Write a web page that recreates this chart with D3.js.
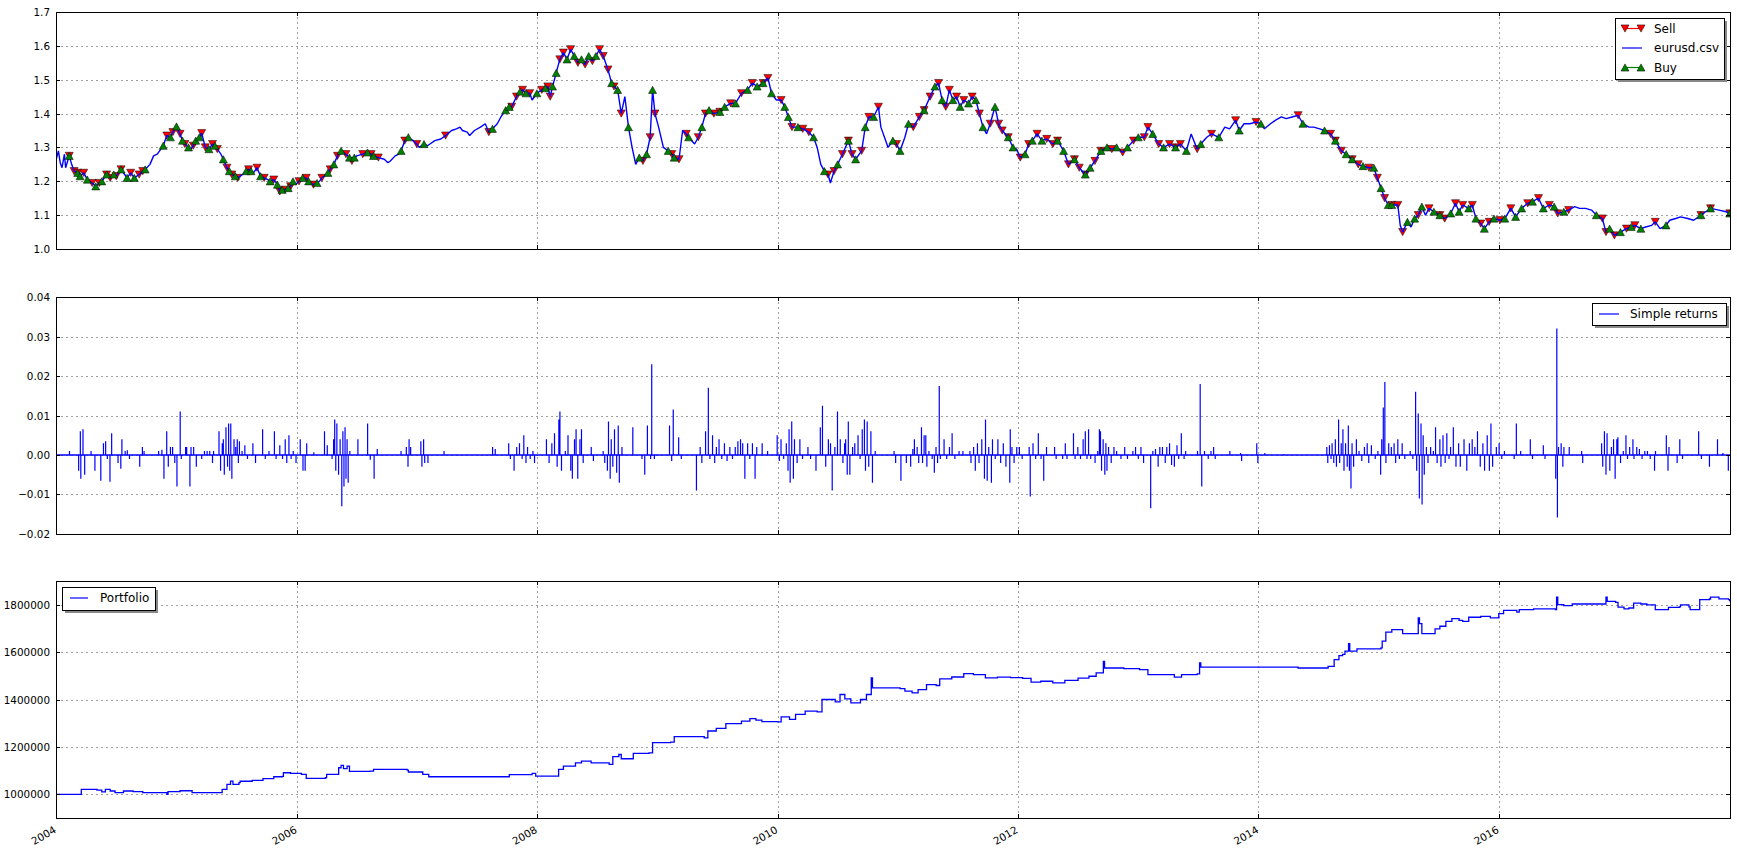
<!DOCTYPE html>
<html><head><meta charset="utf-8">
<script src="https://cdn.jsdelivr.net/npm/d3@7"></script>
<style>
body{margin:0;background:#fff;}
svg{display:block;font-family:"DejaVu Sans",sans-serif;}
</style></head>
<body><svg id="c" width="1737" height="851"></svg>
<script>
// ---------------- DATA ----------------
const xTickYears = [2004,2006,2008,2010,2012,2014,2016];
const xDomainYears = [2004.0, 2017.922];
const priceTicks = [1.0,1.1,1.2,1.3,1.4,1.5,1.6,1.7];
const returnTicks = [-0.02,-0.01,0.0,0.01,0.02,0.03,0.04];
const portfolioTicks = [1000000,1200000,1400000,1600000,1800000];
const priceDomain = [1.0,1.7];
const returnDomain = [-0.02,0.04];
const portfolioDomain = [900000,1900000];

// EUR/USD close [year, price]
const eurusd = [
[2004.00,1.262],[2004.02,1.29],[2004.035,1.255],[2004.05,1.24],[2004.07,1.28],[2004.08,1.24],[2004.11,1.275],[2004.13,1.25],[2004.15,1.23],[2004.18,1.225],[2004.20,1.215],[2004.23,1.225],[2004.26,1.205],[2004.30,1.195],[2004.33,1.185],[2004.36,1.195],[2004.38,1.20],[2004.42,1.22],[2004.45,1.21],[2004.48,1.22],[2004.50,1.215],[2004.54,1.235],[2004.57,1.22],[2004.59,1.21],[2004.62,1.225],[2004.65,1.21],[2004.69,1.22],[2004.72,1.23],[2004.74,1.235],[2004.78,1.25],[2004.81,1.275],[2004.84,1.28],[2004.86,1.29],[2004.89,1.305],[2004.92,1.335],[2004.95,1.33],[2004.97,1.345],[2005.00,1.362],[2005.03,1.34],[2005.05,1.32],[2005.07,1.31],[2005.10,1.30],[2005.12,1.295],[2005.14,1.305],[2005.16,1.32],[2005.19,1.33],[2005.21,1.342],[2005.24,1.30],[2005.27,1.295],[2005.30,1.31],[2005.32,1.305],[2005.34,1.295],[2005.37,1.28],[2005.39,1.265],[2005.42,1.24],[2005.44,1.23],[2005.46,1.22],[2005.49,1.215],[2005.51,1.21],[2005.55,1.22],[2005.58,1.23],[2005.60,1.235],[2005.62,1.23],[2005.64,1.225],[2005.67,1.24],[2005.70,1.215],[2005.73,1.21],[2005.76,1.205],[2005.78,1.20],[2005.81,1.205],[2005.84,1.19],[2005.86,1.17],[2005.88,1.175],[2005.90,1.175],[2005.93,1.18],[2005.95,1.185],[2005.97,1.20],[2005.99,1.19],[2006.02,1.20],[2006.05,1.21],[2006.08,1.21],[2006.10,1.20],[2006.12,1.195],[2006.14,1.19],[2006.17,1.195],[2006.19,1.20],[2006.21,1.21],[2006.23,1.215],[2006.26,1.225],[2006.28,1.235],[2006.31,1.25],[2006.34,1.275],[2006.37,1.29],[2006.39,1.285],[2006.41,1.28],[2006.44,1.27],[2006.46,1.26],[2006.48,1.27],[2006.50,1.275],[2006.55,1.28],[2006.59,1.285],[2006.62,1.28],[2006.64,1.275],[2006.68,1.27],[2006.73,1.265],[2006.76,1.255],[2006.78,1.26],[2006.82,1.275],[2006.85,1.28],[2006.87,1.29],[2006.90,1.32],[2006.93,1.33],[2006.95,1.325],[2006.97,1.32],[2007.00,1.31],[2007.02,1.30],[2007.06,1.31],[2007.09,1.305],[2007.11,1.31],[2007.15,1.32],[2007.20,1.325],[2007.24,1.335],[2007.29,1.35],[2007.33,1.355],[2007.36,1.36],[2007.38,1.35],[2007.42,1.345],[2007.44,1.335],[2007.48,1.35],[2007.53,1.36],[2007.57,1.37],[2007.60,1.345],[2007.63,1.355],[2007.67,1.37],[2007.70,1.39],[2007.74,1.41],[2007.77,1.42],[2007.79,1.42],[2007.83,1.45],[2007.86,1.465],[2007.88,1.47],[2007.91,1.46],[2007.94,1.46],[2007.96,1.44],[2008.00,1.46],[2008.04,1.47],[2008.07,1.475],[2008.09,1.48],[2008.11,1.45],[2008.13,1.48],[2008.16,1.52],[2008.19,1.56],[2008.22,1.58],[2008.25,1.56],[2008.28,1.59],[2008.31,1.57],[2008.34,1.55],[2008.37,1.56],[2008.40,1.545],[2008.43,1.57],[2008.46,1.555],[2008.49,1.57],[2008.52,1.59],[2008.55,1.57],[2008.59,1.53],[2008.62,1.49],[2008.64,1.48],[2008.67,1.47],[2008.70,1.40],[2008.73,1.45],[2008.76,1.36],[2008.79,1.30],[2008.82,1.25],[2008.85,1.27],[2008.88,1.26],[2008.91,1.28],[2008.94,1.33],[2008.96,1.47],[2008.98,1.40],[2009.01,1.36],[2009.05,1.30],[2009.09,1.29],[2009.12,1.28],[2009.14,1.27],[2009.18,1.265],[2009.21,1.35],[2009.24,1.34],[2009.26,1.33],[2009.31,1.31],[2009.34,1.33],[2009.37,1.36],[2009.40,1.40],[2009.43,1.41],[2009.47,1.40],[2009.52,1.405],[2009.56,1.42],[2009.61,1.43],[2009.65,1.43],[2009.70,1.46],[2009.75,1.47],[2009.79,1.49],[2009.83,1.48],[2009.88,1.49],[2009.92,1.505],[2009.95,1.46],[2009.99,1.44],[2010.03,1.44],[2010.06,1.42],[2010.09,1.39],[2010.12,1.36],[2010.17,1.36],[2010.21,1.355],[2010.26,1.345],[2010.30,1.33],[2010.33,1.30],[2010.36,1.25],[2010.39,1.23],[2010.42,1.22],[2010.44,1.195],[2010.47,1.23],[2010.50,1.25],[2010.54,1.28],[2010.59,1.32],[2010.62,1.28],[2010.65,1.265],[2010.70,1.29],[2010.73,1.36],[2010.76,1.39],[2010.80,1.39],[2010.84,1.42],[2010.86,1.36],[2010.89,1.33],[2010.92,1.30],[2010.96,1.32],[2010.99,1.31],[2011.02,1.29],[2011.06,1.33],[2011.09,1.37],[2011.13,1.36],[2011.18,1.39],[2011.22,1.41],[2011.27,1.45],[2011.31,1.48],[2011.34,1.49],[2011.37,1.44],[2011.40,1.42],[2011.43,1.47],[2011.46,1.44],[2011.49,1.45],[2011.52,1.42],[2011.55,1.44],[2011.59,1.43],[2011.62,1.45],[2011.65,1.44],[2011.68,1.40],[2011.71,1.36],[2011.74,1.34],[2011.77,1.37],[2011.81,1.42],[2011.84,1.37],[2011.87,1.35],[2011.92,1.33],[2011.96,1.30],[2011.99,1.295],[2012.02,1.27],[2012.06,1.28],[2012.09,1.31],[2012.12,1.32],[2012.16,1.34],[2012.20,1.32],[2012.24,1.325],[2012.29,1.31],[2012.33,1.32],[2012.38,1.29],[2012.42,1.25],[2012.47,1.265],[2012.51,1.24],[2012.56,1.22],[2012.60,1.24],[2012.64,1.26],[2012.69,1.29],[2012.74,1.30],[2012.78,1.295],[2012.82,1.30],[2012.87,1.285],[2012.91,1.30],[2012.96,1.32],[2013.00,1.33],[2013.05,1.33],[2013.08,1.36],[2013.12,1.34],[2013.17,1.31],[2013.21,1.30],[2013.26,1.31],[2013.31,1.30],[2013.35,1.31],[2013.40,1.29],[2013.44,1.34],[2013.49,1.295],[2013.52,1.31],[2013.57,1.33],[2013.61,1.34],[2013.67,1.33],[2013.72,1.36],[2013.76,1.355],[2013.81,1.38],[2013.84,1.35],[2013.88,1.37],[2013.93,1.37],[2013.98,1.375],[2014.02,1.37],[2014.05,1.355],[2014.10,1.37],[2014.14,1.38],[2014.19,1.39],[2014.23,1.385],[2014.28,1.39],[2014.33,1.395],[2014.37,1.37],[2014.42,1.36],[2014.46,1.36],[2014.51,1.355],[2014.55,1.35],[2014.60,1.34],[2014.64,1.32],[2014.69,1.29],[2014.73,1.28],[2014.78,1.265],[2014.83,1.25],[2014.87,1.245],[2014.92,1.24],[2014.96,1.24],[2014.99,1.21],[2015.02,1.18],[2015.05,1.15],[2015.08,1.13],[2015.11,1.13],[2015.16,1.13],[2015.18,1.07],[2015.20,1.05],[2015.24,1.08],[2015.27,1.065],[2015.30,1.09],[2015.33,1.10],[2015.36,1.125],[2015.39,1.10],[2015.42,1.12],[2015.46,1.11],[2015.51,1.10],[2015.55,1.09],[2015.60,1.105],[2015.64,1.135],[2015.67,1.11],[2015.70,1.13],[2015.75,1.12],[2015.78,1.13],[2015.81,1.09],[2015.85,1.075],[2015.88,1.06],[2015.92,1.08],[2015.96,1.09],[2016.01,1.085],[2016.05,1.09],[2016.10,1.12],[2016.14,1.095],[2016.19,1.12],[2016.24,1.135],[2016.28,1.14],[2016.33,1.15],[2016.37,1.12],[2016.42,1.13],[2016.46,1.125],[2016.49,1.105],[2016.54,1.11],[2016.58,1.115],[2016.63,1.125],[2016.67,1.12],[2016.72,1.12],[2016.77,1.115],[2016.81,1.10],[2016.86,1.09],[2016.89,1.05],[2016.92,1.06],[2016.96,1.04],[2017.01,1.05],[2017.06,1.06],[2017.10,1.065],[2017.13,1.07],[2017.18,1.06],[2017.22,1.065],[2017.27,1.07],[2017.30,1.08],[2017.34,1.06],[2017.39,1.07],[2017.42,1.085],[2017.47,1.09],[2017.51,1.095],[2017.57,1.09],[2017.62,1.085],[2017.68,1.10],[2017.72,1.11],[2017.76,1.12],[2017.83,1.115],[2017.89,1.11],[2017.92,1.105]
];

// trade signal dates (years)
const sellYears = [2004.11,2004.15,2004.18,2004.23,2004.30,2004.36,2004.42,2004.45,2004.50,2004.54,2004.62,2004.69,2004.72,2004.92,2004.97,2005.03,2005.07,2005.14,2005.21,2005.24,2005.30,2005.34,2005.42,2005.46,2005.51,2005.60,2005.67,2005.73,2005.81,2005.86,2005.90,2005.95,2006.02,2006.08,2006.14,2006.21,2006.28,2006.34,2006.41,2006.46,2006.55,2006.62,2006.68,2006.90,2007.00,2007.24,2007.60,2007.79,2007.83,2007.88,2007.94,2008.04,2008.09,2008.11,2008.19,2008.22,2008.28,2008.34,2008.40,2008.46,2008.52,2008.55,2008.59,2008.64,2008.70,2008.88,2008.94,2008.98,2009.12,2009.18,2009.24,2009.34,2009.40,2009.47,2009.52,2009.61,2009.70,2009.79,2009.88,2009.92,2010.03,2010.12,2010.21,2010.26,2010.42,2010.47,2010.54,2010.59,2010.62,2010.70,2010.76,2010.84,2010.99,2011.13,2011.18,2011.22,2011.27,2011.34,2011.40,2011.43,2011.49,2011.55,2011.62,2011.68,2011.77,2011.84,2011.87,2011.92,2012.02,2012.09,2012.16,2012.24,2012.29,2012.33,2012.42,2012.47,2012.51,2012.56,2012.64,2012.69,2012.78,2012.87,2012.96,2013.05,2013.08,2013.17,2013.26,2013.31,2013.35,2013.49,2013.61,2013.81,2013.98,2014.33,2014.60,2014.64,2014.69,2014.78,2014.83,2014.92,2014.99,2015.05,2015.11,2015.16,2015.20,2015.33,2015.42,2015.51,2015.55,2015.64,2015.70,2015.78,2015.85,2015.92,2016.01,2016.10,2016.24,2016.33,2016.42,2016.49,2016.58,2016.86,2016.89,2016.96,2017.06,2017.13,2017.30,2017.68,2017.76,2017.92];
const buyYears = [2004.11,2004.18,2004.20,2004.26,2004.33,2004.38,2004.42,2004.48,2004.54,2004.59,2004.65,2004.74,2004.89,2004.95,2005.00,2005.05,2005.10,2005.16,2005.19,2005.27,2005.32,2005.39,2005.44,2005.49,2005.58,2005.62,2005.70,2005.78,2005.84,2005.88,2005.93,2005.97,2006.05,2006.10,2006.17,2006.26,2006.31,2006.37,2006.44,2006.48,2006.59,2006.64,2006.87,2006.93,2007.06,2007.63,2007.74,2007.77,2007.86,2007.91,2008.00,2008.07,2008.13,2008.16,2008.25,2008.31,2008.37,2008.43,2008.49,2008.62,2008.67,2008.76,2008.85,2008.91,2008.96,2009.09,2009.14,2009.26,2009.37,2009.43,2009.52,2009.56,2009.65,2009.75,2009.83,2009.88,2009.95,2010.06,2010.09,2010.17,2010.30,2010.39,2010.50,2010.59,2010.65,2010.73,2010.80,2010.96,2011.02,2011.09,2011.22,2011.31,2011.37,2011.46,2011.52,2011.59,2011.65,2011.71,2011.81,2011.92,2011.96,2012.06,2012.12,2012.20,2012.33,2012.38,2012.47,2012.56,2012.60,2012.69,2012.74,2012.82,2012.91,2013.00,2013.12,2013.21,2013.31,2013.40,2013.52,2013.67,2013.84,2014.02,2014.37,2014.55,2014.64,2014.73,2014.78,2014.87,2014.96,2015.02,2015.08,2015.11,2015.24,2015.30,2015.36,2015.46,2015.51,2015.60,2015.67,2015.75,2015.81,2015.88,2015.96,2016.05,2016.14,2016.19,2016.28,2016.37,2016.46,2016.54,2016.81,2016.92,2017.01,2017.10,2017.18,2017.39,2017.68,2017.76,2017.92];

// simple returns: non-zero days [year, return]
const returns = [
[2004.112,0.001],[2004.188,-0.004],[2004.202,0.006],[2004.206,-0.006],[2004.224,0.0065],[2004.238,-0.005],[2004.291,0.001],[2004.323,-0.004],[2004.372,-0.0065],[2004.394,0.003],[2004.412,0.0035],[2004.426,-0.001],[2004.448,-0.0068],[2004.462,0.0055],[2004.515,-0.002],[2004.538,-0.0035],[2004.547,0.004],[2004.574,0.001],[2004.592,0.0012],[2004.610,-0.001],[2004.695,-0.003],[2004.717,0.002],[2004.731,0.001],[2004.852,0.001],[2004.879,0.0013],[2004.896,-0.006],[2004.919,0.006],[2004.932,-0.003],[2004.950,0.002],[2004.968,0.002],[2004.986,-0.002],
[2005.004,-0.008],[2005.031,0.011],[2005.040,-0.001],[2005.076,0.002],[2005.085,0.002],[2005.112,-0.008],[2005.121,0.002],[2005.143,0.002],[2005.165,-0.003],[2005.210,-0.001],[2005.233,0.001],[2005.255,0.001],[2005.277,0.001],[2005.300,-0.002],[2005.309,0.001],[2005.354,0.006],[2005.367,-0.004],[2005.381,0.003],[2005.390,0.004],[2005.398,-0.005],[2005.412,0.007],[2005.425,-0.003],[2005.434,0.008],[2005.443,-0.004],[2005.452,0.008],[2005.461,-0.006],[2005.479,0.004],[2005.493,0.002],[2005.506,0.004],[2005.515,-0.002],[2005.524,0.0035],[2005.546,0.001],[2005.569,0.0025],[2005.591,-0.001],[2005.636,0.003],[2005.658,-0.002],[2005.717,0.0065],[2005.739,-0.001],[2005.770,0.001],[2005.815,0.006],[2005.829,-0.001],[2005.860,0.0025],[2005.883,-0.001],[2005.905,0.004],[2005.918,-0.002],[2005.936,0.005],[2005.954,-0.001],[2005.972,0.001],[2005.995,-0.002],
[2006.030,0.004],[2006.053,-0.004],[2006.071,-0.004],[2006.084,0.003],[2006.143,0.0007],[2006.232,0.006],[2006.255,0.0025],[2006.295,-0.001],[2006.308,0.004],[2006.317,0.009],[2006.326,-0.004],[2006.335,0.008],[2006.349,-0.005],[2006.362,0.004],[2006.376,-0.013],[2006.385,0.006],[2006.394,-0.008],[2006.403,0.007],[2006.411,-0.006],[2006.420,0.004],[2006.429,-0.007],[2006.443,0.001],[2006.510,0.004],[2006.591,0.008],[2006.613,-0.0012],[2006.645,-0.006],[2006.671,0.0015],[2006.869,0.001],[2006.913,0.002],[2006.927,-0.003],[2006.936,0.004],[2006.949,0.002],
[2007.034,0.0035],[2007.043,-0.003],[2007.057,0.004],[2007.066,-0.002],[2007.093,-0.002],[2007.227,0.001],[2007.631,0.002],[2007.653,0.0015],[2007.765,0.003],[2007.779,-0.001],[2007.810,-0.004],[2007.832,0.002],[2007.855,0.003],[2007.877,-0.001],[2007.891,0.005],[2007.909,-0.002],[2007.922,0.002],[2007.944,-0.001],[2007.967,0.001],[2007.980,-0.002],
[2008.079,0.004],[2008.101,-0.002],[2008.124,0.003],[2008.146,0.0055],[2008.168,-0.003],[2008.182,0.009],[2008.191,0.011],[2008.204,-0.004],[2008.236,0.001],[2008.258,0.005],[2008.281,-0.004],[2008.294,-0.006],[2008.312,0.004],[2008.325,0.0065],[2008.339,-0.006],[2008.357,0.004],[2008.370,0.0065],[2008.384,-0.002],[2008.451,0.002],[2008.469,-0.0015],[2008.550,0.001],[2008.563,-0.002],[2008.585,-0.004],[2008.594,0.0085],[2008.608,-0.006],[2008.617,0.004],[2008.630,-0.003],[2008.644,0.0065],[2008.662,-0.0045],[2008.675,0.0075],[2008.684,-0.007],[2008.706,0.002],[2008.796,0.007],[2008.872,-0.001],[2008.895,-0.005],[2008.917,0.0075],[2008.944,-0.001],[2008.953,0.023],[2008.975,-0.001],
[2009.101,0.0075],[2009.119,-0.0015],[2009.132,0.0115],[2009.177,0.0045],[2009.199,-0.001],[2009.325,-0.009],[2009.356,0.002],[2009.370,-0.002],[2009.401,0.006],[2009.424,0.017],[2009.437,-0.001],[2009.459,0.005],[2009.477,-0.002],[2009.491,0.002],[2009.513,0.004],[2009.536,-0.001],[2009.558,0.003],[2009.580,-0.0015],[2009.603,0.002],[2009.625,-0.001],[2009.648,0.002],[2009.670,0.0035],[2009.692,0.004],[2009.710,0.003],[2009.728,-0.006],[2009.751,0.003],[2009.769,-0.001],[2009.791,0.003],[2009.813,-0.006],[2009.827,0.002],[2009.872,0.003],[2009.917,0.001],[2009.997,0.005],
[2010.015,-0.0015],[2010.029,0.004],[2010.051,-0.001],[2010.073,0.003],[2010.087,-0.004],[2010.096,0.0065],[2010.105,-0.007],[2010.118,0.0085],[2010.132,-0.006],[2010.141,0.004],[2010.163,-0.002],[2010.186,0.004],[2010.208,-0.001],[2010.253,0.002],[2010.275,-0.001],[2010.320,-0.004],[2010.356,0.007],[2010.374,0.0125],[2010.401,-0.003],[2010.423,0.004],[2010.441,0.003],[2010.455,-0.009],[2010.477,0.002],[2010.499,0.011],[2010.522,0.004],[2010.544,-0.002],[2010.558,0.003],[2010.567,0.004],[2010.580,-0.005],[2010.589,0.0085],[2010.602,-0.005],[2010.625,0.002],[2010.643,0.003],[2010.670,0.005],[2010.687,-0.001],[2010.705,0.0065],[2010.723,0.009],[2010.732,-0.004],[2010.746,0.0085],[2010.759,-0.003],[2010.777,0.006],[2010.790,-0.007],[2010.813,0.001],[2010.970,0.001],[2010.983,-0.002],
[2011.027,-0.0065],[2011.072,-0.002],[2011.108,-0.003],[2011.126,0.0015],[2011.139,0.004],[2011.162,0.002],[2011.175,-0.002],[2011.198,0.007],[2011.207,-0.002],[2011.220,0.005],[2011.234,0.005],[2011.243,-0.003],[2011.260,0.001],[2011.287,-0.001],[2011.305,-0.0045],[2011.319,0.002],[2011.332,-0.002],[2011.346,0.0175],[2011.355,-0.001],[2011.386,0.004],[2011.408,-0.001],[2011.431,0.002],[2011.453,0.0055],[2011.476,-0.001],[2011.511,0.001],[2011.543,0.001],[2011.601,0.001],[2011.610,-0.002],[2011.632,0.002],[2011.646,-0.004],[2011.664,0.003],[2011.677,-0.002],[2011.700,0.004],[2011.722,-0.006],[2011.731,0.009],[2011.745,-0.0065],[2011.758,0.002],[2011.780,-0.007],[2011.789,0.004],[2011.812,-0.001],[2011.834,0.004],[2011.857,-0.002],[2011.879,0.003],[2011.901,-0.003],[2011.933,-0.007],[2011.937,0.0065],[2011.951,0.002],[2011.969,-0.002],[2011.991,0.002],
[2012.013,0.002],[2012.036,-0.001],[2012.094,0.002],[2012.103,-0.0105],[2012.126,0.003],[2012.148,-0.001],[2012.170,0.0055],[2012.193,-0.001],[2012.215,-0.0065],[2012.238,0.002],[2012.305,0.002],[2012.318,-0.001],[2012.372,-0.001],[2012.394,0.003],[2012.408,-0.001],[2012.462,0.0055],[2012.475,-0.001],[2012.498,0.002],[2012.520,-0.001],[2012.542,0.004],[2012.560,0.006],[2012.574,-0.001],[2012.587,0.0065],[2012.605,-0.001],[2012.641,-0.002],[2012.663,0.001],[2012.677,0.0065],[2012.686,0.006],[2012.695,-0.004],[2012.708,0.004],[2012.722,-0.005],[2012.731,0.003],[2012.740,-0.004],[2012.753,0.002],[2012.775,-0.002],[2012.798,0.002],[2012.820,0.001],[2012.856,-0.001],[2012.887,0.002],[2012.910,-0.001],[2012.955,0.001],[2012.977,0.002],
[2013.000,-0.001],[2013.022,0.002],[2013.044,-0.002],[2013.103,-0.0135],[2013.121,0.001],[2013.143,0.0015],[2013.165,-0.003],[2013.179,0.002],[2013.201,0.002],[2013.224,-0.002],[2013.237,0.002],[2013.260,0.003],[2013.277,-0.0025],[2013.300,-0.003],[2013.322,0.0025],[2013.336,-0.001],[2013.358,0.0055],[2013.381,-0.001],[2013.394,0.001],[2013.493,0.001],[2013.515,0.018],[2013.528,-0.008],[2013.551,0.001],[2013.582,-0.001],[2013.605,0.001],[2013.627,0.002],[2013.640,-0.001],[2013.762,0.001],[2013.851,0.0005],[2013.860,-0.0015],[2013.986,0.003],[2013.995,-0.002],
[2014.053,0.0005],[2014.210,0.0002],[2014.569,0.002],[2014.577,-0.002],[2014.591,0.0025],[2014.604,-0.001],[2014.613,0.003],[2014.627,-0.002],[2014.640,0.004],[2014.649,-0.003],[2014.667,0.009],[2014.676,-0.002],[2014.689,0.003],[2014.703,0.0065],[2014.712,-0.004],[2014.725,0.003],[2014.739,-0.003],[2014.748,0.0075],[2014.757,-0.004],[2014.770,-0.0085],[2014.779,0.003],[2014.792,-0.003],[2014.815,0.004],[2014.837,0.001],[2014.860,-0.0015],[2014.882,0.002],[2014.905,0.003],[2014.918,-0.002],[2014.940,0.0025],[2014.972,-0.001],[2014.994,0.001],
[2015.017,-0.005],[2015.026,0.004],[2015.039,0.012],[2015.052,0.0185],[2015.061,-0.002],[2015.084,0.003],[2015.106,0.002],[2015.129,0.003],[2015.142,-0.002],[2015.160,0.004],[2015.173,-0.001],[2015.196,0.003],[2015.218,-0.001],[2015.263,0.001],[2015.285,-0.001],[2015.308,0.016],[2015.317,-0.004],[2015.330,0.0105],[2015.339,-0.011],[2015.353,0.008],[2015.362,-0.0125],[2015.371,0.005],[2015.380,-0.005],[2015.398,0.002],[2015.411,-0.002],[2015.433,0.002],[2015.456,0.001],[2015.474,0.007],[2015.487,-0.002],[2015.510,0.004],[2015.519,-0.003],[2015.536,0.005],[2015.554,-0.002],[2015.568,0.0055],[2015.586,-0.001],[2015.599,0.002],[2015.622,0.007],[2015.644,-0.003],[2015.666,0.003],[2015.680,-0.003],[2015.711,0.004],[2015.734,-0.004],[2015.756,0.003],[2015.779,0.004],[2015.801,0.002],[2015.823,0.006],[2015.846,-0.003],[2015.868,0.003],[2015.882,-0.004],[2015.904,0.005],[2015.922,-0.004],[2015.935,0.008],[2015.949,-0.003],[2015.980,0.002],
[2016.003,0.003],[2016.025,-0.001],[2016.047,0.001],[2016.128,-0.001],[2016.146,0.008],[2016.182,0.001],[2016.262,0.004],[2016.280,-0.001],[2016.370,0.0025],[2016.384,-0.001],[2016.473,-0.006],[2016.482,0.032],[2016.487,-0.0158],[2016.496,0.002],[2016.518,0.003],[2016.532,-0.003],[2016.541,0.002],[2016.585,0.002],[2016.688,0.001],[2016.697,-0.002],[2016.854,0.003],[2016.863,-0.003],[2016.877,0.006],[2016.890,-0.005],[2016.899,0.0055],[2016.922,-0.004],[2016.935,0.002],[2016.953,0.004],[2016.966,-0.006],[2016.980,0.004],[2016.989,0.0045],
[2017.011,-0.002],[2017.034,0.001],[2017.056,0.005],[2017.069,-0.001],[2017.087,0.002],[2017.114,0.004],[2017.123,-0.001],[2017.146,0.002],[2017.168,0.0015],[2017.190,-0.001],[2017.213,0.001],[2017.235,0.001],[2017.258,-0.001],[2017.294,-0.004],[2017.302,0.001],[2017.392,0.005],[2017.406,-0.004],[2017.414,0.002],[2017.482,-0.002],[2017.504,0.004],[2017.527,-0.001],[2017.661,0.006],[2017.684,-0.001],[2017.751,-0.003],[2017.818,0.004],[2017.863,0.0005],[2017.908,-0.004]
];

// portfolio value [year, value]
const portfolio = [
[2004.00,1000000],[2004.20,1000000],[2004.21,1021000],[2004.34,1018000],[2004.38,1010000],[2004.41,1021000],[2004.45,1014000],[2004.49,1007000],[2004.56,1014000],[2004.64,1011000],[2004.72,1007000],[2004.89,1007000],[2004.92,1000000],[2004.93,1011000],[2005.00,1011000],[2005.03,1015000],[2005.11,1015000],[2005.13,1007000],[2005.35,1007000],[2005.38,1021000],[2005.42,1042000],[2005.45,1056000],[2005.47,1042000],[2005.52,1049000],[2005.53,1055000],[2005.63,1059000],[2005.72,1066000],[2005.81,1074000],[2005.88,1076000],[2005.89,1091000],[2005.95,1088000],[2006.04,1084000],[2006.08,1067000],[2006.24,1070000],[2006.25,1084000],[2006.31,1084000],[2006.35,1112000],[2006.37,1122000],[2006.39,1108000],[2006.42,1119000],[2006.44,1097000],[2006.61,1098000],[2006.64,1105000],[2006.92,1102000],[2006.93,1094000],[2007.05,1084000],[2007.10,1074000],[2007.76,1074000],[2007.77,1083000],[2007.96,1088000],[2007.99,1077000],[2008.16,1077000],[2008.18,1105000],[2008.22,1119000],[2008.32,1133000],[2008.37,1140000],[2008.45,1133000],[2008.60,1126000],[2008.63,1159000],[2008.68,1168000],[2008.70,1150000],[2008.78,1150000],[2008.80,1173000],[2008.93,1175000],[2008.96,1218000],[2009.11,1220000],[2009.14,1243000],[2009.39,1238000],[2009.42,1267000],[2009.49,1278000],[2009.57,1298000],[2009.70,1309000],[2009.77,1319000],[2009.82,1313000],[2009.87,1307000],[2010.00,1306000],[2010.03,1327000],[2010.10,1316000],[2010.15,1337000],[2010.23,1351000],[2010.33,1348000],[2010.37,1400000],[2010.48,1390000],[2010.52,1421000],[2010.56,1403000],[2010.61,1386000],[2010.69,1400000],[2010.74,1421000],[2010.78,1491000],[2010.79,1449000],[2011.02,1446000],[2011.06,1435000],[2011.12,1428000],[2011.17,1442000],[2011.24,1463000],[2011.32,1459000],[2011.35,1487000],[2011.45,1495000],[2011.55,1509000],[2011.63,1505000],[2011.73,1491000],[2011.83,1494000],[2011.94,1492000],[2012.04,1489000],[2012.11,1473000],[2012.19,1477000],[2012.29,1470000],[2012.39,1481000],[2012.50,1490000],[2012.59,1498000],[2012.65,1512000],[2012.71,1561000],[2012.72,1533000],[2012.88,1530000],[2013.01,1526000],[2013.08,1505000],[2013.21,1505000],[2013.30,1494000],[2013.36,1505000],[2013.49,1508000],[2013.51,1554000],[2013.52,1537000],[2013.82,1537000],[2014.33,1533000],[2014.56,1533000],[2014.58,1540000],[2014.63,1568000],[2014.67,1585000],[2014.70,1590000],[2014.72,1604000],[2014.75,1636000],[2014.76,1604000],[2014.82,1614000],[2014.93,1614000],[2015.02,1618000],[2015.03,1646000],[2015.06,1684000],[2015.11,1695000],[2015.14,1695000],[2015.20,1678000],[2015.32,1678000],[2015.33,1744000],[2015.34,1720000],[2015.36,1678000],[2015.46,1678000],[2015.47,1698000],[2015.51,1709000],[2015.56,1730000],[2015.61,1741000],[2015.67,1734000],[2015.70,1730000],[2015.75,1747000],[2015.85,1751000],[2015.93,1744000],[2016.00,1762000],[2016.04,1776000],[2016.15,1769000],[2016.17,1779000],[2016.29,1782000],[2016.47,1779000],[2016.48,1832000],[2016.49,1800000],[2016.54,1796000],[2016.61,1803000],[2016.86,1803000],[2016.89,1832000],[2016.90,1814000],[2016.97,1810000],[2016.99,1790000],[2017.04,1782000],[2017.08,1786000],[2017.12,1807000],[2017.18,1803000],[2017.23,1799000],[2017.29,1799000],[2017.30,1779000],[2017.40,1779000],[2017.41,1789000],[2017.50,1791000],[2017.51,1799000],[2017.58,1791000],[2017.59,1779000],[2017.66,1779000],[2017.67,1821000],[2017.75,1824000],[2017.76,1832000],[2017.83,1825000],[2017.91,1821000],[2017.92,1813000]
];

// ---------------- DRAW ----------------
function yd(y){const yr=Math.floor(y);const s=Date.UTC(yr,0,1),e=Date.UTC(yr+1,0,1);return new Date(s+(y-yr)*(e-s));}
const svg=d3.select("#c");
const L=56, R=1730;
const x=d3.scaleUtc().domain(xDomainYears.map(yd)).range([L,R]);
const panels=[
 {top:12,bottom:249,domain:priceDomain,ticks:priceTicks,fmt:d3.format(".1f")},
 {top:297,bottom:534,domain:returnDomain,ticks:returnTicks,fmt:d3.format(".2f")},
 {top:581,bottom:818,domain:portfolioDomain,ticks:portfolioTicks,fmt:d3.format("d")}
];
const BLUE="#0000ff", RED="#ff0000", GREEN="#008000";
const font="DejaVu Sans, sans-serif";

panels.forEach((p,i)=>{
  p.y=d3.scaleLinear().domain(p.domain).range([p.bottom,p.top]);
  const g=svg.append("g");
  p.g=g;
  const clipId="clip"+i;
  svg.append("clipPath").attr("id",clipId).append("rect").attr("x",L).attr("y",p.top).attr("width",R-L).attr("height",p.bottom-p.top);
  const grid=g.append("g").attr("stroke","#a0a0a0").attr("stroke-width",1).attr("stroke-dasharray","2,3");
  xTickYears.forEach(t=>{const xx=Math.round(x(yd(t)))+0.5;grid.append("line").attr("x1",xx).attr("x2",xx).attr("y1",p.top).attr("y2",p.bottom);});
  p.ticks.forEach(t=>{const yy=Math.round(p.y(t))+0.5;grid.append("line").attr("x1",L).attr("x2",R).attr("y1",yy).attr("y2",yy);});
  p.plot=g.append("g").attr("clip-path",`url(#${clipId})`);
});

// Panel 1: price + signals
const P0=panels[0];
const priceLine=d3.line().x(d=>x(yd(d[0]))).y(d=>P0.y(d[1]));
const bis=d3.bisector(d=>d[0]).center;
const at=yr=>eurusd[bis(eurusd,yr)];
const tri=(size,down)=>{const h=size*0.9, w=size/2; return down?`M${-w},${-h/2}L${w},${-h/2}L0,${h/2}Z`:`M${-w},${h/2}L${w},${h/2}L0,${-h/2}Z`;};
P0.plot.append("g").selectAll("path").data(sellYears).join("path")
  .attr("d",tri(8,true)).attr("transform",d=>{const p=at(d);return `translate(${x(yd(p[0]))},${P0.y(p[1])})`;})
  .attr("fill",RED).attr("stroke","#000").attr("stroke-width",0.5);
P0.plot.append("path").datum(eurusd).attr("d",priceLine).attr("fill","none").attr("stroke",BLUE).attr("stroke-width",1.4).attr("stroke-linejoin","bevel");
P0.plot.append("g").selectAll("path").data(buyYears).join("path")
  .attr("d",tri(8,false)).attr("transform",d=>{const p=at(d);return `translate(${x(yd(p[0]))},${P0.y(p[1])})`;})
  .attr("fill",GREEN).attr("stroke","#000").attr("stroke-width",0.5);

// Panel 2: returns
const P1=panels[1];
P1.plot.append("line").attr("x1",L).attr("x2",R).attr("y1",P1.y(0)).attr("y2",P1.y(0)).attr("stroke",BLUE).attr("stroke-width",1.6);
P1.plot.append("path").attr("d",returns.map(d=>{const xx=x(yd(d[0]));return `M${xx},${P1.y(0)}L${xx},${P1.y(d[1])}`;}).join(""))
  .attr("fill","none").attr("stroke",BLUE).attr("stroke-width",1.2);

// Panel 3: portfolio
const P2=panels[2];
P2.plot.append("path").datum(portfolio).attr("d",d3.line().curve(d3.curveStepAfter).x(d=>x(yd(d[0]))).y(d=>P2.y(d[1])))
  .attr("fill","none").attr("stroke",BLUE).attr("stroke-width",1.3);

// frames, ticks, labels
panels.forEach((p,i)=>{
  const g=p.g.append("g");
  const tk=g.append("g").attr("stroke","#000").attr("stroke-width",1);
  p.ticks.forEach(t=>{const yy=Math.round(p.y(t))+0.5;
    tk.append("line").attr("x1",L).attr("x2",L+4).attr("y1",yy).attr("y2",yy);
    tk.append("line").attr("x1",R-4).attr("x2",R).attr("y1",yy).attr("y2",yy);
    g.append("text").attr("x",L-6).attr("y",yy).attr("dy","0.35em").attr("text-anchor","end")
      .attr("font-size",10.4).attr("font-family",font).attr("fill","#000").text(p.fmt(t));
  });
  xTickYears.forEach(t=>{const xx=Math.round(x(yd(t)))+0.5;
    tk.append("line").attr("x1",xx).attr("x2",xx).attr("y1",p.bottom-4).attr("y2",p.bottom);
    tk.append("line").attr("x1",xx).attr("x2",xx).attr("y1",p.top).attr("y2",p.top+4);
  });
  g.append("rect").attr("x",L+0.5).attr("y",p.top+0.5).attr("width",R-L).attr("height",p.bottom-p.top)
    .attr("fill","none").attr("stroke","#000").attr("stroke-width",1);
});
xTickYears.forEach(t=>{const xx=x(yd(t));
  svg.append("text").attr("transform",`translate(${xx+1},${P2.bottom+14}) rotate(-30)`).attr("text-anchor","end")
    .attr("font-size",10.4).attr("font-family",font).attr("fill","#000").text(String(t));
});

// legends
function legend(x0,y0,w,h,items){
  const g=svg.append("g");
  g.append("rect").attr("x",x0+3).attr("y",y0+3).attr("width",w).attr("height",h).attr("fill","#888");
  g.append("rect").attr("x",x0+0.5).attr("y",y0+0.5).attr("width",w).attr("height",h).attr("fill","#fff").attr("stroke","#000").attr("stroke-width",1);
  items.forEach(it=>{
    g.append("line").attr("x1",it.lx1).attr("x2",it.lx2).attr("y1",it.y).attr("y2",it.y).attr("stroke",it.color).attr("stroke-width",1.2);
    if(it.marker){[it.lx1,it.lx2].forEach(mx=>g.append("path").attr("d",tri(8,it.marker==="v")).attr("transform",`translate(${mx},${it.y})`).attr("fill",it.color).attr("stroke","#000").attr("stroke-width",0.5));}
    g.append("text").attr("x",it.tx).attr("y",it.y).attr("dy","0.36em").attr("font-size",12).attr("font-family",font).attr("fill","#000").text(it.label);
  });
}
legend(1615,18,109,61,[
  {label:"Sell",color:RED,marker:"v",lx1:1625,lx2:1641,tx:1654,y:28.5},
  {label:"eurusd.csv",color:BLUE,lx1:1622,lx2:1642,tx:1654,y:48},
  {label:"Buy",color:GREEN,marker:"^",lx1:1625,lx2:1641,tx:1654,y:67.5}
]);
legend(1592,303,134,22,[{label:"Simple returns",color:BLUE,lx1:1599,lx2:1619,tx:1630,y:314}]);
legend(62,587,93,23,[{label:"Portfolio",color:BLUE,lx1:70,lx2:88,tx:100,y:598}]);
</script></body></html>
